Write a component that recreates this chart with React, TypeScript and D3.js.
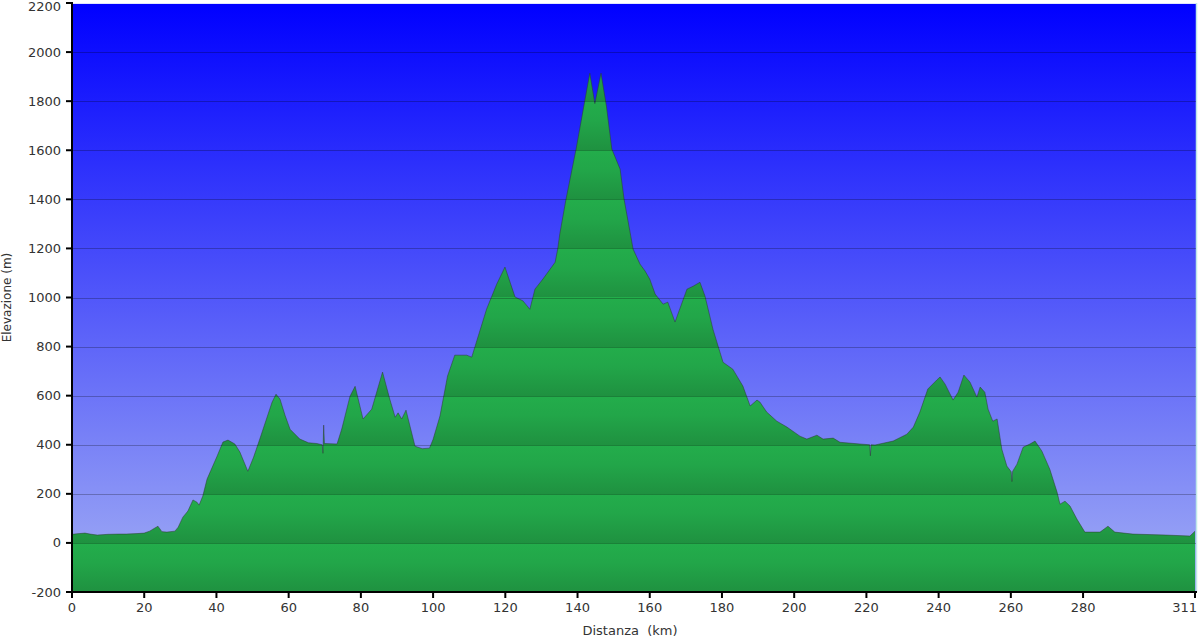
import * as d3 from "d3";

// elevation profile (km, m)
const distKm = [
  0, 2, 3.6, 5, 7, 10, 13, 15, 18, 20, 21.5, 22.4, 23.8, 24.9, 26.3, 28.5, 29.4, 30.7, 32.1, 33.5,
  34.6, 35.2, 36.2, 37.4, 40.2, 41.8, 43.2, 45.1, 46.5, 48.7, 50.3, 52, 55.4, 56.5, 57.6, 59, 60.4,
  63.1, 65.5, 67.8, 69.3, 69.5, 69.7, 69.9, 73.4, 74.7, 77, 78.4, 80.6, 83, 86, 88, 89.5, 90.3, 91.3,
  92.5, 93.6, 95, 97, 99, 100, 101.9, 104, 106, 109.3, 110.7, 114.8, 117.6, 119.9, 122.7, 124.9,
  126.8, 128.2, 130.4, 133.8, 134.5, 135.1, 136.8, 139.6, 142.1, 143.4, 144.8, 146.5, 148, 149.5,
  151.8, 152.9, 155.4, 157.3, 158.7, 160, 161.5, 163.7, 165, 167, 170.3, 172, 173.9, 175.3, 177.5,
  180.3, 183, 185.8, 187.8, 189.7, 190.5, 192.4, 195.2, 198, 201.6, 203.5, 206.3, 208, 210.8, 212.7,
  218.2, 220.9, 221.1, 221.3, 222.4, 227.4, 231.2, 233, 234.8, 237, 239.5, 240.4, 241.8, 244, 245.4,
  247, 248.7, 250.6, 251.5, 252.8, 253.7, 255, 256.2, 257.5, 258.9, 260.1, 260.3, 260.5, 261.7, 263.4,
  265.3, 266.7, 268.6, 270.8, 272.8, 273.6, 275, 276.4, 278.3, 280.5, 284.7, 286.9, 288.8, 293.8,
  303, 309.6, 311,
];
const elevM = [
  35, 38, 40, 36, 32, 35, 36, 36, 38, 40, 48, 56, 68, 46, 44, 48, 64, 105, 130, 175,
  166, 154, 190, 260, 354, 411, 419, 403, 370, 292, 350, 423, 573, 606, 586, 520, 463,
  423, 408, 405, 400, 365, 480, 405, 403, 464, 598, 638, 505, 545, 696, 586, 512, 530, 505,
  541, 476, 394, 384, 386, 422, 517, 680, 765, 765, 757, 952, 1054, 1124, 1002, 986,
  952, 1034, 1075, 1144, 1197, 1260, 1400, 1605, 1809, 1914, 1790, 1914, 1780, 1605,
  1523, 1400, 1197, 1136, 1108, 1075, 1014, 973, 981, 900, 1034, 1046, 1062, 1006, 871,
  736, 708, 639, 558, 582, 574, 533, 496, 472, 435, 423, 439, 423, 427, 410,
  403, 400, 355, 400, 399, 415, 443, 472, 533, 627, 664, 676, 647, 582, 614,
  684, 655, 594, 635, 614, 545, 496, 505, 382, 313, 290, 250, 292, 321, 390,
  403, 415, 374, 300, 207, 158, 170, 150, 97, 44, 44, 68, 44, 36,
  32, 28, 48,
];

const xTicks = [0, 20, 40, 60, 80, 100, 120, 140, 160, 180, 200, 220, 240, 260, 280, 311];
const yTicks = [-200, 0, 200, 400, 600, 800, 1000, 1200, 1400, 1600, 1800, 2000, 2200];

const W = 1200;
const H = 641;
const left = 72;
const right = 1195;
const plotRight = 1197;
const top = 3;
const bottom = 592;
const font = "Verdana, 'DejaVu Sans', sans-serif";

export default function App() {
  const x = d3.scaleLinear().domain([0, 311]).range([left, right]);
  const y = d3.scaleLinear().domain([-200, 2200]).range([bottom, top]);

  const pts = distKm.map((d, i) => [d, elevM[i]] as [number, number]);
  const area = d3
    .area<[number, number]>()
    .x((d) => x(d[0]))
    .y0(y(-200))
    .y1((d) => y(d[1]));
  const line = d3
    .line<[number, number]>()
    .x((d) => x(d[0]))
    .y((d) => y(d[1]));

  return (
    <div style={{ position: "absolute", left: 0, top: 0 }}>
      <svg width={W} height={H} style={{ display: "block", background: "#fff" }}>
        <defs>
          <linearGradient id="sky" gradientUnits="userSpaceOnUse" x1={0} y1={top} x2={0} y2={y(0)}>
            <stop offset="0" stopColor="#0000ff" />
            <stop offset="1" stopColor="#95a0f5" />
          </linearGradient>
          <linearGradient
            id="ground"
            gradientUnits="userSpaceOnUse"
            spreadMethod="repeat"
            x1={0}
            y1={y(2200)}
            x2={0}
            y2={y(2000)}
          >
            <stop offset="0" stopColor="#23ad4b" />
            <stop offset="0.4" stopColor="#22a649" />
            <stop offset="1" stopColor="#1f9140" />
          </linearGradient>
        </defs>

        <rect x={left} y={top} width={plotRight - left} height={bottom - top} fill="url(#sky)" />
        <line x1={left} x2={plotRight} y1={top + 0.5} y2={top + 0.5} stroke="#dfe3ff" strokeWidth={1} />
        <line x1={plotRight - 0.5} x2={plotRight - 0.5} y1={top} y2={bottom} stroke="#bfe8e8" strokeWidth={1.5} />

        <path d={area(pts) ?? ""} fill="url(#ground)" />
        <path d={line(pts) ?? ""} fill="none" stroke="#2c3a30" strokeOpacity={0.5} strokeWidth={1} />

        {yTicks
          .filter((t) => t > -200 && t < 2200)
          .map((t) => (
            <line
              key={t}
              x1={left}
              x2={plotRight - 1}
              y1={Math.round(y(t)) + 0.5}
              y2={Math.round(y(t)) + 0.5}
              stroke="#000"
              strokeOpacity={0.25}
              strokeWidth={1}
            />
          ))}

        {/* axes */}
        <line x1={left} x2={left} y1={top - 1} y2={bottom + 1} stroke="#000" strokeWidth={2} />
        <line x1={left - 1} x2={plotRight} y1={bottom} y2={bottom} stroke="#000" strokeWidth={2} />

        {yTicks.map((t) => (
          <g key={t} transform={`translate(0,${y(t)})`}>
            <line x1={left - 6} x2={left} stroke="#000" strokeWidth={2} />
            <text
              x={61}
              y={t === 2200 ? 3 : 0}
              dy="0.35em"
              textAnchor="end"
              fontFamily={font}
              fontSize={13}
              fill="#333"
            >
              {t}
            </text>
          </g>
        ))}

        {xTicks.map((t, i) => (
          <g key={t} transform={`translate(${x(t)},0)`}>
            <line y1={bottom} y2={bottom + 6} stroke="#000" strokeWidth={2} />
            <text
              x={i === xTicks.length - 1 ? 2 : 0}
              y={612}
              textAnchor={i === xTicks.length - 1 ? "end" : "middle"}
              fontFamily={font}
              fontSize={13}
              fill="#333"
            >
              {t}
            </text>
          </g>
        ))}

        <text
          transform={`translate(11,${(top + bottom) / 2}) rotate(-90)`}
          textAnchor="middle"
          fontFamily={font}
          fontSize={12}
          fill="#333"
        >
          Elevazione (m)
        </text>
        <text
          x={630}
          y={635}
          textAnchor="middle"
          fontFamily={font}
          fontSize={13}
          fill="#333"
          style={{ whiteSpace: "pre" }}
        >
          {"Distanza  (km)"}
        </text>
      </svg>
    </div>
  );
}
